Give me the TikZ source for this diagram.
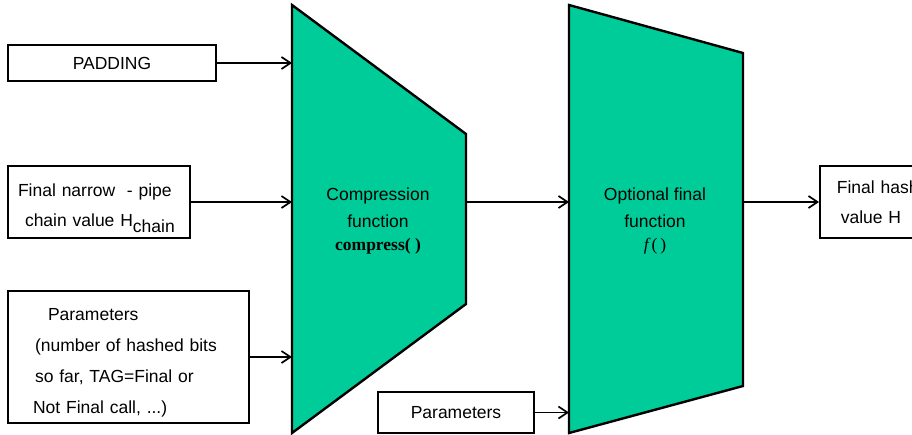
\documentclass[tikz,border=0pt]{standalone}
\usepackage{fontspec}
\setmainfont{Liberation Sans}
\newfontfamily\serifx{Liberation Serif}
\usetikzlibrary{arrows.meta}
\definecolor{trapgreen}{RGB}{0,204,153}
\begin{document}
\begin{tikzpicture}[x=1pt,y=-1pt,
  box/.style={draw,line width=1.6pt,inner ysep=0pt,font=\fontsize{17.5}{30}\selectfont},
  trap/.style={draw,fill=trapgreen,line width=2.4pt,line join=miter},
  arr/.style={line width=1.7pt,-{Straight Barb[length=9pt,width=12pt,line width=1.7pt]}},
  lbl/.style={inner sep=0pt,align=center}]
\useasboundingbox (0,0) rectangle (912,434);
% trapezoids
\draw[trap] (292,5) coordinate (cTL) -- (466,134) -- (466,304) -- (292,433) -- cycle;
\draw[trap] (569,5) coordinate (fTL) -- (743,53) -- (743,386) -- (569,433) -- cycle;
\coordinate (cR) at (466,202);
\coordinate (fR) at (743,202);
% labels in trapezoids
\node[lbl,font=\fontsize{17.5}{27}\selectfont] (ctext) at (378,221)
  {Compression\\function\\[-4pt]{\serifx\bfseries compress( )}};
\node[lbl,font=\fontsize{17.5}{27}\selectfont] (ftext) at (655,221)
  {Optional final\\function\\[-4pt]{\serifx\itshape f\upshape\,(\,)}};
% input boxes
\node[box,minimum width=208pt,minimum height=36pt] (pad) at (112,63) {PADDING};
\node[box,minimum height=72pt,text width=162pt,inner xsep=10pt,align=left] (chain) at (99,202)
  {\rule{0pt}{18.5pt}Final narrow\ \ - pipe\\\hspace*{7pt}chain value H\raisebox{-6pt}[0pt][0pt]{chain}};
\node[box,minimum height=132pt,text width=191pt,inner xsep=25pt,align=left,font=\fontsize{17.5}{31}\selectfont] (par1) at (128.5,357)
  {\rule{0pt}{23pt}\hspace*{15pt}Parameters\\\hspace*{2pt}(number of hashed bits\\\hspace*{2pt}so far, TAG=Final or\\Not Final call, ...)};
\node[box,minimum width=156pt,minimum height=41pt] (par2) at (456,412.5) {Parameters};
\node[box,minimum height=72pt,text width=100pt,inner xsep=17pt,align=left,anchor=west] (hash) at (819,202)
  {\rule{0pt}{14pt}Final hash\\\hspace*{4pt}value H};
% connectors
\draw[arr] (pad.east) -- (pad.east -| cTL);
\draw[arr] (chain.east) -- (chain.east -| cTL);
\draw[arr] (par1.east) -- (par1.east -| cTL);
\draw[arr] (cR) -- (cR -| fTL);
\draw[arr] (par2.east) -- (par2.east -| fTL);
\draw[arr] (fR) -- (hash.west);
\end{tikzpicture}
\end{document}
